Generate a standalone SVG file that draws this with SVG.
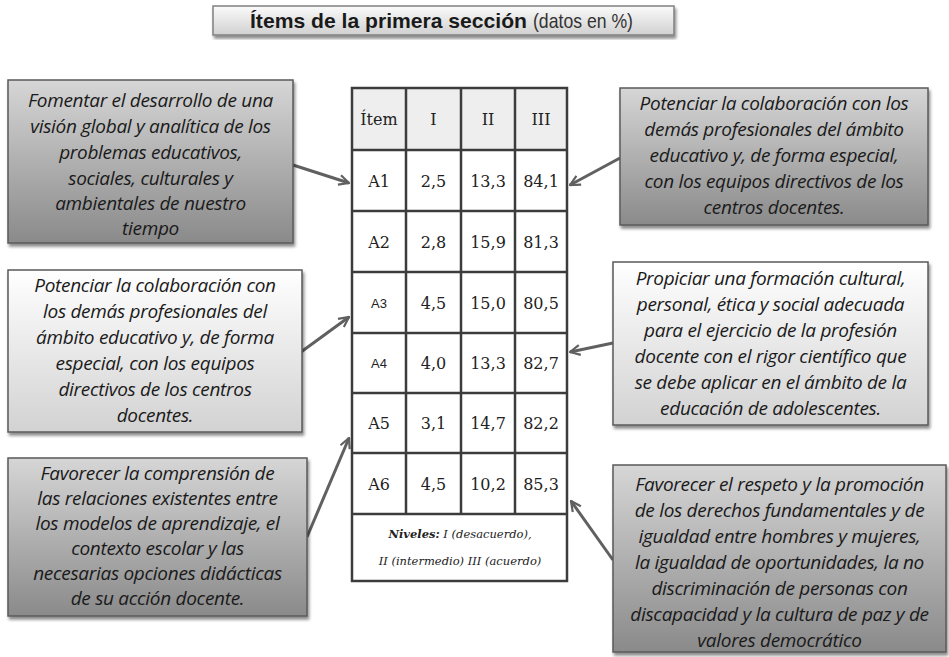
<svg xmlns="http://www.w3.org/2000/svg" width="949" height="657" viewBox="0 0 949 657">
<style>
.box{stroke:#5a5a5a;stroke-width:1.5}
.dark{fill:url(#gDark)}
.light{fill:url(#gLight)}
.bt{font-family:"Open Sans","DejaVu Sans",sans-serif;font-style:italic;font-size:19px;letter-spacing:-0.3px;fill:#1a1a1a;text-anchor:middle}
.tc{font-family:"DejaVu Serif","Liberation Serif",serif;font-size:16px;fill:#222;text-anchor:middle}
.ts{font-family:"Liberation Sans",sans-serif;font-size:13px;fill:#222;text-anchor:middle}
.grid{stroke:#3c3c3c;stroke-width:2.5;fill:none}
.conn{stroke:#606060;stroke-width:3;fill:none}
.ft{font-family:"DejaVu Serif","Liberation Serif",serif;font-style:italic;font-size:11.5px;fill:#222;text-anchor:middle}
</style>
<defs>
<linearGradient id="gDark" x1="0" y1="0" x2="0" y2="1">
<stop offset="0" stop-color="#d6d6d6"/>
<stop offset="1" stop-color="#8a8a8a"/>
</linearGradient>
<linearGradient id="gLight" x1="0" y1="0" x2="0" y2="1">
<stop offset="0" stop-color="#ffffff"/>
<stop offset="1" stop-color="#d2d2d2"/>
</linearGradient>
<linearGradient id="gTitle" x1="0" y1="0" x2="0" y2="1">
<stop offset="0" stop-color="#fbfbfb"/>
<stop offset="1" stop-color="#d0d0d0"/>
</linearGradient>
<filter id="sh" x="-5%" y="-5%" width="115%" height="120%">
<feDropShadow dx="1.5" dy="3" stdDeviation="1.8" flood-color="#000" flood-opacity="0.45"/>
</filter>
<marker id="arr" viewBox="0 0 12 12" refX="11" refY="6" markerWidth="4" markerHeight="4" orient="auto" markerUnits="strokeWidth">
<path d="M1,1 L11,6 L1,11" fill="none" stroke="#606060" stroke-width="2.2"/>
</marker>
</defs>
<rect width="949" height="657" fill="#ffffff"/>

<g id="title">
<rect x="213" y="6" width="461" height="29" fill="url(#gTitle)" stroke="#808080" stroke-width="1.5" filter="url(#sh)"/>
<text x="250" y="28" font-family="Liberation Sans,Arial,sans-serif" font-weight="bold" font-size="21" fill="#1a1a1a" textLength="277" lengthAdjust="spacingAndGlyphs">Ítems de la primera sección</text>
<text x="533" y="28" font-family="Liberation Sans,Arial,sans-serif" font-size="21" fill="#333" textLength="100" lengthAdjust="spacingAndGlyphs">(datos en %)</text>
</g>

<g id="table">
<rect x="352" y="88" width="215" height="62" fill="#eeeeee"/>
<rect x="352" y="150" width="215" height="431" fill="#ffffff"/>
<rect x="352" y="88" width="215" height="493" class="grid"/>
<path class="grid" d="M352,150H567M352,211H567M352,272H567M352,333H567M352,393H567M352,453H567M352,514H567M406,88V514M461,88V514M515,88V514"/>
<text class="tc" x="379" y="124.5" font-size="13.5">Ítem</text>
<text class="tc" x="433.5" y="124.5">I</text>
<text class="tc" x="488" y="124.5">II</text>
<text class="tc" x="541" y="124.5">III</text>
<text class="tc" x="379" y="186.5">A1</text><text class="tc" x="433.5" y="186.5">2,5</text><text class="tc" x="488" y="186.5">13,3</text><text class="tc" x="541" y="186.5">84,1</text>
<text class="tc" x="379" y="247.5">A2</text><text class="tc" x="433.5" y="247.5">2,8</text><text class="tc" x="488" y="247.5">15,9</text><text class="tc" x="541" y="247.5">81,3</text>
<text class="ts" x="379" y="307.5">A3</text><text class="tc" x="433.5" y="308.5">4,5</text><text class="tc" x="488" y="308.5">15,0</text><text class="tc" x="541" y="308.5">80,5</text>
<text class="ts" x="379" y="368">A4</text><text class="tc" x="433.5" y="369">4,0</text><text class="tc" x="488" y="369">13,3</text><text class="tc" x="541" y="369">82,7</text>
<text class="tc" x="379" y="429">A5</text><text class="tc" x="433.5" y="429">3,1</text><text class="tc" x="488" y="429">14,7</text><text class="tc" x="541" y="429">82,2</text>
<text class="tc" x="379" y="489.5">A6</text><text class="tc" x="433.5" y="489.5">4,5</text><text class="tc" x="488" y="489.5">10,2</text><text class="tc" x="541" y="489.5">85,3</text>
<text class="ft" x="460" y="538"><tspan font-weight="bold">Niveles:</tspan>   I (desacuerdo),</text>
<text class="ft" x="460" y="565">II (intermedio) III (acuerdo)</text>
</g>

<g id="connectors">
<line class="conn" x1="293" y1="165" x2="349" y2="183" marker-end="url(#arr)"/>
<line class="conn" x1="301" y1="352" x2="349" y2="317" marker-end="url(#arr)"/>
<line class="conn" x1="307" y1="537" x2="349" y2="438" marker-end="url(#arr)"/>
<line class="conn" x1="620" y1="158" x2="570" y2="185" marker-end="url(#arr)"/>
<line class="conn" x1="613" y1="343" x2="570" y2="352" marker-end="url(#arr)"/>
<line class="conn" x1="613" y1="560" x2="571" y2="501" marker-end="url(#arr)"/>
</g>

<g id="box-left-1">
<rect class="box dark" x="8" y="80" width="285" height="163" filter="url(#sh)"/>
<text class="bt" x="150.5" y="107">Fomentar el desarrollo de una</text>
<text class="bt" x="150.5" y="133">visión global y analítica de los</text>
<text class="bt" x="150.5" y="159">problemas educativos,</text>
<text class="bt" x="150.5" y="185">sociales, culturales y</text>
<text class="bt" x="150.5" y="210">ambientales de nuestro</text>
<text class="bt" x="150.5" y="235">tiempo</text>
</g>

<g id="box-right-1">
<rect class="box dark" x="620" y="88" width="308" height="137" filter="url(#sh)"/>
<text class="bt" x="774" y="110">Potenciar la colaboración con los</text>
<text class="bt" x="774" y="136">demás profesionales del ámbito</text>
<text class="bt" x="774" y="162">educativo y, de forma especial,</text>
<text class="bt" x="774" y="188">con los equipos directivos de los</text>
<text class="bt" x="774" y="214">centros docentes.</text>
</g>

<g id="box-left-2">
<rect class="box light" x="8" y="270" width="294" height="162" filter="url(#sh)"/>
<text class="bt" x="155" y="292">Potenciar la colaboración con</text>
<text class="bt" x="155" y="318">los demás profesionales del</text>
<text class="bt" x="155" y="344">ámbito educativo y, de forma</text>
<text class="bt" x="155" y="370">especial, con los equipos</text>
<text class="bt" x="155" y="396">directivos de los centros</text>
<text class="bt" x="155" y="422">docentes.</text>
</g>

<g id="box-right-2">
<rect class="box light" x="613" y="262" width="315" height="163" filter="url(#sh)"/>
<text class="bt" x="770.5" y="285">Propiciar una formación cultural,</text>
<text class="bt" x="770.5" y="311">personal, ética y social adecuada</text>
<text class="bt" x="770.5" y="337">para el ejercicio  de la profesión</text>
<text class="bt" x="770.5" y="363">docente con el rigor científico que</text>
<text class="bt" x="770.5" y="389">se debe aplicar en el ámbito de la</text>
<text class="bt" x="770.5" y="415">educación de adolescentes.</text>
</g>

<g id="box-left-3">
<rect class="box dark" x="8" y="458" width="299" height="158" filter="url(#sh)"/>
<text class="bt" x="157.5" y="480">Favorecer la comprensión de</text>
<text class="bt" x="157.5" y="505">las relaciones existentes entre</text>
<text class="bt" x="157.5" y="530">los modelos de aprendizaje, el</text>
<text class="bt" x="157.5" y="555">contexto escolar y las</text>
<text class="bt" x="157.5" y="580">necesarias opciones didácticas</text>
<text class="bt" x="157.5" y="605">de su acción docente.</text>
</g>

<g id="box-right-3">
<rect class="box dark" x="613" y="465" width="333" height="187" filter="url(#sh)"/>
<text class="bt" x="779.5" y="491">Favorecer el respeto y la promoción</text>
<text class="bt" x="779.5" y="517">de los derechos fundamentales y de</text>
<text class="bt" x="779.5" y="543">igualdad entre hombres y mujeres,</text>
<text class="bt" x="779.5" y="569">la igualdad de oportunidades, la no</text>
<text class="bt" x="779.5" y="595">discriminación de personas con</text>
<text class="bt" x="779.5" y="621">discapacidad y la cultura de paz y de</text>
<text class="bt" x="779.5" y="647">valores democrático</text>
</g>
</svg>
